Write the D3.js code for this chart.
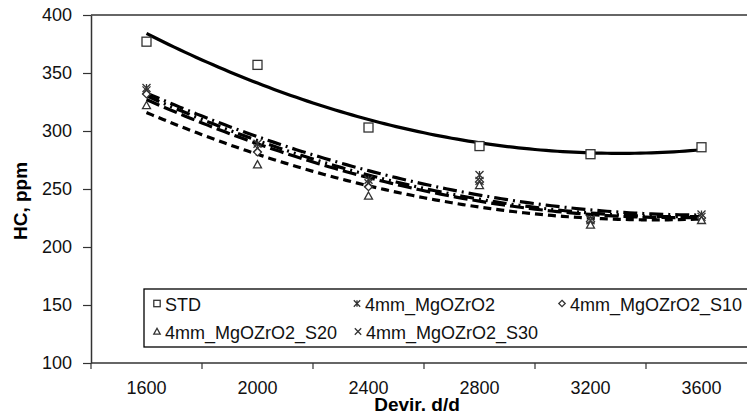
<!DOCTYPE html>
<html>
<head>
<meta charset="utf-8">
<script src="https://cdn.jsdelivr.net/npm/d3@7"></script>
<style>
  body { margin: 0; background: #fff; }
  svg { display: block; font-family: "Liberation Sans", Arial, sans-serif; }
</style>
</head>
<body>
<svg width="747" height="419"></svg>
<script>
// engine speed categories (x axis)
let categories = ["1600", "2000", "2400", "2800", "3200", "3600"];
let yTicks = [100, 150, 200, 250, 300, 350, 400];

// HC, ppm values
let std      = [377, 357, 303, 287, 280, 286];
let mgo      = [337, 289, 258, 262, 224, 228];
let mgoS10   = [332, 282, 252, 256, 222, 225];
let mgoS20   = [322, 271, 244, 253, 219, 223];
let mgoS30   = [335, 285, 255, 257, 223, 226];

let seriesNames = ["STD", "4mm_MgOZrO2", "4mm_MgOZrO2_S10", "4mm_MgOZrO2_S20", "4mm_MgOZrO2_S30"];
let seriesValues = [std, mgo, mgoS10, mgoS20, mgoS30];
let markers = ["square", "star", "diamond", "triangle", "cross"];
let dashes = [null, "14,5,2,5", "14,5", "8,5", "14,5,2,5,2,5"];

let svg = d3.select("svg");
let margin = {left: 91, top: 15, bottom: 363};
let bandW = 111;

let x = d3.scaleBand()
    .domain(categories)
    .range([margin.left, margin.left + bandW * categories.length]);

let y = d3.scaleLinear()
    .domain([100, 400])
    .range([margin.bottom, margin.top]);

let axisColor = "#333";

// top border of plot area
svg.append("line")
    .attr("x1", margin.left).attr("x2", 747)
    .attr("y1", margin.top).attr("y2", margin.top)
    .attr("stroke", axisColor).attr("stroke-width", 1.5);

// y axis
let gy = svg.append("g")
    .attr("transform", "translate(" + margin.left + ",0)")
    .call(d3.axisLeft(y).tickValues(yTicks).tickSize(8).tickSizeOuter(0).tickPadding(11));
gy.select(".domain").attr("stroke", axisColor).attr("stroke-width", 1.5);
gy.selectAll(".tick line").attr("stroke", axisColor).attr("stroke-width", 1.2);
gy.selectAll(".tick text")
    .attr("font-size", 18).attr("fill", "#111")
    .attr("font-family", "Liberation Sans, Arial, sans-serif");

// x axis: ticks between categories, labels centered in band
let gx = svg.append("g")
    .attr("transform", "translate(0," + margin.bottom + ")");
gx.append("line")
    .attr("x1", margin.left).attr("x2", 747)
    .attr("y1", 0).attr("y2", 0)
    .attr("stroke", axisColor).attr("stroke-width", 1.5);
let edges = categories.map(c => x(c)).concat([x.range()[1]]);
gx.selectAll("line.tk").data(edges).enter().append("line")
    .attr("class", "tk")
    .attr("x1", d => d).attr("x2", d => d)
    .attr("y1", 0).attr("y2", 6)
    .attr("stroke", axisColor).attr("stroke-width", 1.2);
gx.selectAll("text").data(categories).enter().append("text")
    .attr("x", d => x(d) + x.bandwidth() / 2)
    .attr("y", 31)
    .attr("text-anchor", "middle")
    .attr("font-size", 18).attr("fill", "#111")
    .text(d => d);

// axis titles
svg.append("text")
    .attr("x", 417).attr("y", 411)
    .attr("text-anchor", "middle")
    .attr("font-size", 19).attr("font-weight", "bold")
    .text("Devir. d/d");
svg.append("text")
    .attr("transform", "translate(27,201) rotate(-90)")
    .attr("text-anchor", "middle")
    .attr("font-size", 19).attr("font-weight", "bold")
    .text("HC, ppm");

// quadratic least squares fit (like the spreadsheet trendline)
function polyFit2(vals) {
    let s = [0, 0, 0, 0, 0], t = [0, 0, 0];
    vals.forEach((v, i) => {
        let xi = i + 1;
        for (let k = 0; k < 5; k++) s[k] += Math.pow(xi, k);
        for (let k = 0; k < 3; k++) t[k] += v * Math.pow(xi, k);
    });
    let A = [[s[0], s[1], s[2], t[0]], [s[1], s[2], s[3], t[1]], [s[2], s[3], s[4], t[2]]];
    for (let i = 0; i < 3; i++) {
        for (let j = i + 1; j < 3; j++) {
            let f = A[j][i] / A[i][i];
            for (let k = i; k < 4; k++) A[j][k] -= f * A[i][k];
        }
    }
    let c = [0, 0, 0];
    for (let i = 2; i >= 0; i--) {
        let sum = A[i][3];
        for (let k = i + 1; k < 3; k++) sum -= A[i][k] * c[k];
        c[i] = sum / A[i][i];
    }
    return xi => c[0] + c[1] * xi + c[2] * xi * xi;
}

let xPos = d3.scaleLinear()
    .domain([1, categories.length])
    .range([x(categories[0]) + x.bandwidth() / 2, x(categories[categories.length - 1]) + x.bandwidth() / 2]);

let trendLine = d3.line()
    .x(d => xPos(d[0]))
    .y(d => y(d[1]))
    .curve(d3.curveBasis);

seriesValues.forEach((vals, si) => {
    let f = polyFit2(vals);
    let pts = d3.range(1, categories.length + 0.001, 0.05).map(t => [t, f(t)]);
    svg.append("path")
        .datum(pts)
        .attr("fill", "none")
        .attr("stroke", "#000")
        .attr("stroke-width", si === 0 ? 3.2 : 3.2)
        .attr("stroke-dasharray", dashes[si])
        .attr("d", trendLine);
});

// marker drawing
function drawMarker(g, type, cx, cy, r) {
    let col = "#333";
    if (type === "square") {
        g.append("rect").attr("x", cx - r).attr("y", cy - r)
            .attr("width", 2 * r).attr("height", 2 * r)
            .attr("fill", "#fff").attr("stroke", col).attr("stroke-width", 1.3);
    } else if (type === "triangle") {
        g.append("path")
            .attr("d", "M" + cx + "," + (cy - r) + "L" + (cx + r) + "," + (cy + r * 0.8) + "L" + (cx - r) + "," + (cy + r * 0.8) + "Z")
            .attr("fill", "#fff").attr("stroke", col).attr("stroke-width", 1.3);
    } else if (type === "diamond") {
        g.append("path")
            .attr("d", "M" + cx + "," + (cy - r) + "L" + (cx + r) + "," + cy + "L" + cx + "," + (cy + r) + "L" + (cx - r) + "," + cy + "Z")
            .attr("fill", "#fff").attr("stroke", col).attr("stroke-width", 1.3);
    } else if (type === "cross") {
        g.append("path")
            .attr("d", "M" + (cx - r) + "," + (cy - r) + "L" + (cx + r) + "," + (cy + r) + "M" + (cx + r) + "," + (cy - r) + "L" + (cx - r) + "," + (cy + r))
            .attr("stroke", col).attr("stroke-width", 1.3);
    } else if (type === "star") {
        g.append("path")
            .attr("d", "M" + (cx - r) + "," + (cy - r) + "L" + (cx + r) + "," + (cy + r) + "M" + (cx + r) + "," + (cy - r) + "L" + (cx - r) + "," + (cy + r) + "M" + cx + "," + (cy - r) + "L" + cx + "," + (cy + r))
            .attr("stroke", col).attr("stroke-width", 1.3);
    }
}

let gm = svg.append("g");
seriesValues.forEach((vals, si) => {
    vals.forEach((v, i) => {
        let r = markers[si] === "square" ? 4.5 : 4;
        drawMarker(gm, markers[si], x(categories[i]) + x.bandwidth() / 2, y(v), r);
    });
});

// legend
let legend = svg.append("g");
legend.append("rect")
    .attr("x", 144).attr("y", 289)
    .attr("width", 700).attr("height", 58)
    .attr("fill", "#fff").attr("stroke", "#000").attr("stroke-width", 1.3);
let legendPos = [[157, 304], [357, 304], [562, 304], [157, 332], [358, 332]];
seriesNames.forEach((name, si) => {
    let p = legendPos[si];
    drawMarker(legend, markers[si], p[0], p[1] - 0.5, 3.2);
    legend.append("text")
        .attr("x", p[0] + 8).attr("y", p[1] + 6.5)
        .attr("font-size", 18).attr("fill", "#111")
        .text(name);
});
</script>
</body>
</html>
